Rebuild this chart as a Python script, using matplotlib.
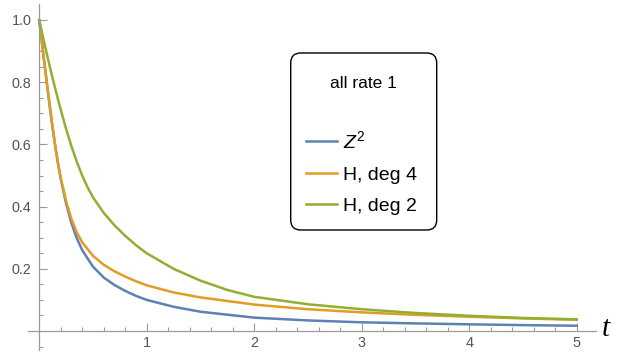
import numpy as np
import matplotlib.pyplot as plt
from matplotlib.patches import FancyBboxPatch
from matplotlib.ticker import FixedLocator

plt.rcParams['font.family'] = ['Liberation Sans', 'DejaVu Sans']
plt.rcParams['mathtext.fontset'] = 'custom'
plt.rcParams['mathtext.it'] = 'Liberation Sans:italic'
plt.rcParams['mathtext.rm'] = 'Liberation Sans'

# values
t_z2 = [0, 0.025, 0.05, 0.075, 0.1, 0.125, 0.15, 0.175, 0.2, 0.25, 0.3, 0.35,
        0.4, 0.5, 0.6, 0.7, 0.8, 0.9, 1.0, 1.25, 1.5, 2.0, 2.5, 3.0, 3.5,
        4.0, 4.5, 5.0]
z2 = [1.0, 0.928, 0.856, 0.786, 0.717, 0.652, 0.592, 0.538, 0.49, 0.41,
      0.347, 0.298, 0.26, 0.207, 0.172, 0.148, 0.129, 0.113, 0.10, 0.078,
      0.062, 0.043, 0.034, 0.028, 0.0245, 0.0215, 0.019, 0.017]

t_h4 = [0, 0.025, 0.05, 0.075, 0.1, 0.125, 0.15, 0.175, 0.2, 0.25, 0.3, 0.35,
        0.4, 0.5, 0.6, 0.7, 0.8, 0.9, 1.0, 1.25, 1.5, 2.0, 2.5, 3.0, 3.5,
        4.0, 4.5, 5.0]
h4 = [1.0, 0.929, 0.858, 0.788, 0.72, 0.655, 0.595, 0.54, 0.494, 0.418,
      0.36, 0.317, 0.285, 0.242, 0.213, 0.192, 0.175, 0.16, 0.147, 0.124,
      0.108, 0.085, 0.07, 0.06, 0.052, 0.046, 0.0405, 0.036]

t_h2 = [0, 0.05, 0.1, 0.15, 0.2, 0.25, 0.3, 0.35, 0.4, 0.45, 0.5, 0.6, 0.7,
        0.8, 0.9, 1.0, 1.25, 1.5, 1.75, 2.0, 2.5, 3.0, 3.5, 4.0, 4.5, 5.0]
h2 = [1.0, 0.922, 0.848, 0.778, 0.712, 0.65, 0.594, 0.544, 0.50, 0.462,
      0.43, 0.38, 0.34, 0.306, 0.276, 0.25, 0.20, 0.162, 0.132, 0.11,
      0.086, 0.07, 0.058, 0.049, 0.042, 0.0375]

labels = ['$Z^2$', 'H, deg 4', 'H, deg 2']
colors = ['#5E81B5', '#E19C24', '#8FB032']
legend_title = 'all rate 1'

# ==============================================================
fig = plt.figure(figsize=(6.19, 3.53), dpi=100)
ax = fig.add_axes([0, 0, 1, 1])
ax.set_xlim(-0.3647, 5.394)
ax.set_ylim(-0.0707, 1.0643)

ax.plot(t_z2, z2, color=colors[0], lw=1.8, label=labels[0])
ax.plot(t_h4, h4, color=colors[1], lw=1.8, label=labels[1])
ax.plot(t_h2, h2, color=colors[2], lw=1.8, label=labels[2])

axis_gray = '#9a9a9a'
for s in ['top', 'right']:
    ax.spines[s].set_visible(False)
ax.spines['left'].set_position(('data', 0))
ax.spines['bottom'].set_position(('data', 0))
ax.spines['left'].set_bounds(-0.061, 1.051)
ax.spines['bottom'].set_bounds(-0.104, 5.18)
for s in ['left', 'bottom']:
    ax.spines[s].set_color(axis_gray)
    ax.spines[s].set_linewidth(0.9)

ax.xaxis.set_major_locator(FixedLocator([1, 2, 3, 4, 5]))
ax.xaxis.set_minor_locator(FixedLocator([i * 0.2 for i in range(1, 26) if i % 5]))
ax.yaxis.set_major_locator(FixedLocator([0.2, 0.4, 0.6, 0.8, 1.0]))
ax.yaxis.set_minor_locator(FixedLocator([-0.05] + [i * 0.05 for i in range(1, 21) if i % 4]))
ax.set_yticklabels(['0.2', '0.4', '0.6', '0.8', '1.0'])
ax.tick_params(which='both', direction='in', color=axis_gray, width=0.8,
               labelcolor='#555555', labelsize=10.4)
ax.tick_params(which='major', length=5.5)
ax.tick_params(which='minor', length=3)
ax.tick_params(axis='x', pad=3.5)
ax.tick_params(axis='y', pad=5.5)
ax.patch.set_visible(False)

fig.text(606 / 619, 1 - 329 / 353, 't', family='Liberation Serif', style='italic',
         fontsize=21, ha='center', va='center', color='black')

# legend box
frame = FancyBboxPatch((2.907, 1.23), 1.46, 1.77,
                       boxstyle='round,pad=0,rounding_size=0.1',
                       transform=fig.dpi_scale_trans, fc='white', ec='black',
                       lw=1.0, zorder=4)
ax.add_patch(frame)
ax.text(363.7 / 619, 1 - 83 / 353, legend_title, transform=fig.transFigure,
        ha='center', va='center', fontsize=12.5, zorder=6)
leg = ax.legend(loc='upper left', bbox_to_anchor=(306 / 619, 1 - 130 / 353),
                bbox_transform=fig.transFigure, frameon=False, fontsize=14,
                borderpad=0, borderaxespad=0, handlelength=1.6, handletextpad=0.32,
                labelspacing=0.72)
leg.set_zorder(6)

fig.savefig('out.png', dpi=100)
